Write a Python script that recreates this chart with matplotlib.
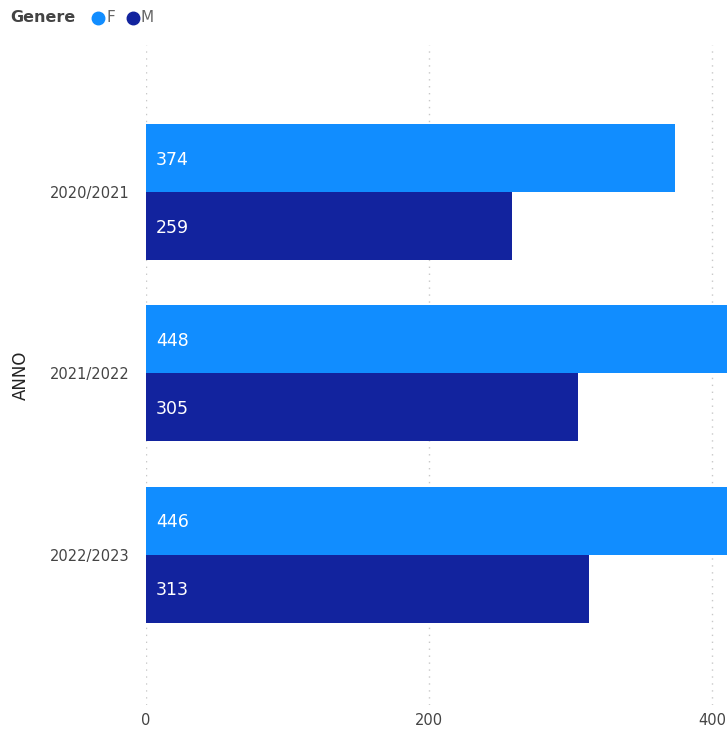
import numpy as np
import matplotlib.pyplot as plt
from matplotlib.lines import Line2D

# data
anni = ["2020/2021", "2021/2022", "2022/2023"]
femmine = [374, 448, 446]
maschi = [259, 305, 313]
xticks = [0, 200, 400]

col_f = "#118DFF"
col_m = "#12239E"

fig = plt.figure(figsize=(7.27, 7.33), dpi=100)
ax = fig.add_axes([146 / 727, 1 - 705 / 733, 1 - 146 / 727, 660 / 733])

y = np.arange(len(anni))
h = 0.375
bars_f = ax.barh(y - h / 2, femmine, height=h, color=col_f)
bars_m = ax.barh(y + h / 2, maschi, height=h, color=col_m)

# value labels inside the bars, near the start
for bars, vals in [(bars_f, femmine), (bars_m, maschi)]:
    for b, v in zip(bars, vals):
        ax.text(7, b.get_y() + b.get_height() / 2 + 0.01, str(v), color="white",
                fontsize=12.5, va="center", ha="left")

ax.set_xlim(0, 410.6)
ax.set_ylim(2.83, -0.81)
ax.set_xticks(xticks)
ax.set_yticks(y)
ax.set_yticklabels(anni)
ax.tick_params(length=0, labelsize=10.5, colors="#444444")
ax.tick_params(axis="y", pad=12)
ax.tick_params(axis="x", pad=6)
ax.set_ylabel("ANNO", fontsize=12, color="#222222", labelpad=14)
ax.xaxis.grid(True, linestyle=(0, (1, 4)), color="#c8c8c8", linewidth=1)
ax.set_axisbelow(True)
for s in ax.spines.values():
    s.set_visible(False)

# legend at the top
ly = 1 - 18 / 733
fig.text(10 / 727, ly, "Genere", fontsize=11.5, fontweight="bold",
         color="#444444", va="center", ha="left")
for cx, tx, lab, c in [(98, 106, "F", col_f), (133, 141, "M", col_m)]:
    fig.add_artist(Line2D([cx / 727], [ly], marker="o", markersize=9,
                          color=c, linestyle="none", transform=fig.transFigure))
    fig.text(tx / 727, ly, lab, fontsize=11, color="#666666", va="center", ha="left")

fig.savefig("out.png", dpi=100)
